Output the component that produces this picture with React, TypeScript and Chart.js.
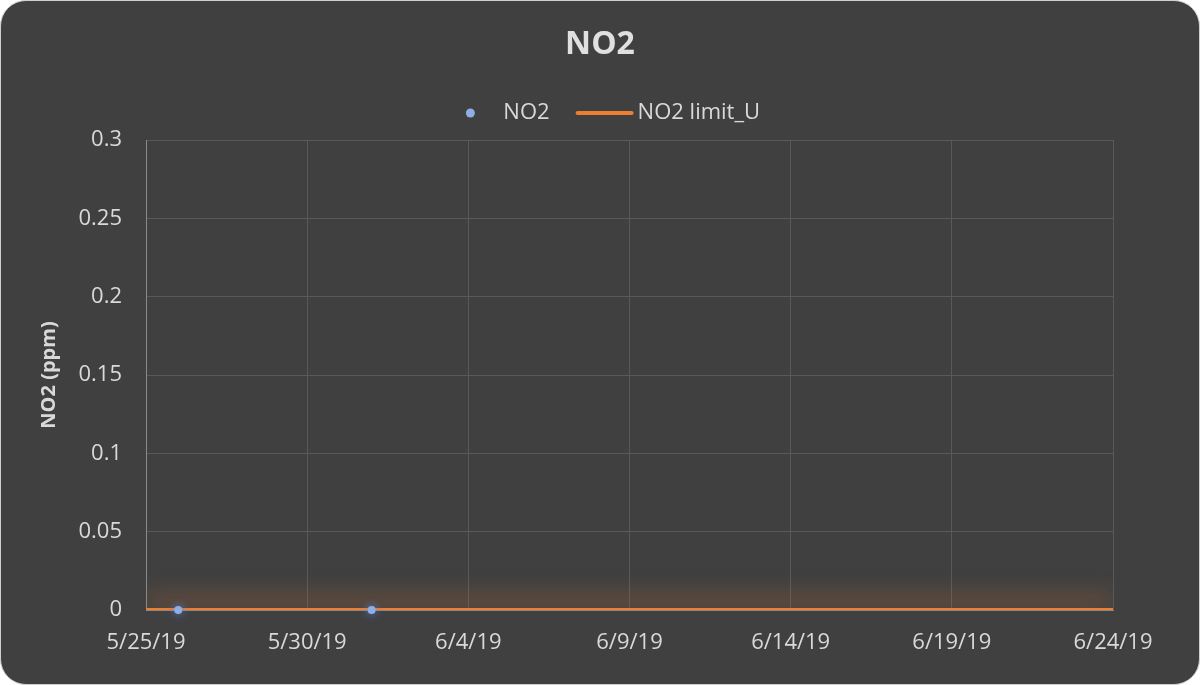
import React, { useEffect, useRef } from "react";
import { Chart, registerables } from "chart.js";

Chart.register(...registerables);

// ---- data ----
const no2Dates = ["5/26/19", "6/1/19"];
const no2Values = [0, 0];
const limitDates = ["5/25/19", "6/24/19"];
const limitValues = [0, 0];
const xTickLabels = ["5/25/19", "5/30/19", "6/4/19", "6/9/19", "6/14/19", "6/19/19", "6/24/19"];
const yTickValues = [0, 0.05, 0.1, 0.15, 0.2, 0.25, 0.3];

const DAY = 86400000;
function parseDate(s: string): number {
  const [m, d, y] = s.split("/").map(Number);
  return Date.UTC(2000 + y, m - 1, d);
}
const startMs = parseDate(xTickLabels[0]);
const toDay = (s: string) => Math.round((parseDate(s) - startMs) / DAY);
function formatDay(v: number): string {
  const dt = new Date(startMs + v * DAY);
  return `${dt.getUTCMonth() + 1}/${dt.getUTCDate()}/${String(dt.getUTCFullYear()).slice(2)}`;
}

const FONT = "'Open Sans', sans-serif";
const TEXT = "#d9d9d9";
const BLUE = "#8eaee6";
const ORANGE = "#ed7d31";

const glowPlugin = {
  id: "glow",
  beforeDatasetDraw(chart: any, args: any) {
    const ctx = chart.ctx;
    ctx.save();
    if (args.index === 1) {
      ctx.shadowColor = "rgba(237,125,49,0.85)";
      ctx.shadowBlur = 22;
      ctx.shadowOffsetY = -9;
    } else {
      ctx.shadowColor = "rgba(90,140,240,0.9)";
      ctx.shadowBlur = 8;
    }
  },
  afterDatasetDraw(chart: any) {
    chart.ctx.restore();
  },
};

const legendPlugin = {
  id: "customLegend",
  afterDraw(chart: any) {
    const ctx = chart.ctx;
    const ds = chart.data.datasets;
    ctx.save();
    ctx.font = `22px ${FONT}`;
    ctx.textBaseline = "middle";
    ctx.fillStyle = TEXT;
    const y = 112;
    const r = 4.5;
    const w1 = ctx.measureText(ds[0].label).width;
    const w2 = ctx.measureText(ds[1].label).width;
    const lineLen = 54;
    const total = 2 * r + 28.5 + w1 + 28 + lineLen + 6 + w2;
    let x = chart.width / 2 + 13 - total / 2;
    ctx.beginPath();
    ctx.fillStyle = BLUE;
    ctx.arc(x + r, y, r, 0, Math.PI * 2);
    ctx.fill();
    x += 2 * r + 28.5;
    ctx.fillStyle = TEXT;
    ctx.fillText(ds[0].label, x, y);
    x += w1 + 28;
    ctx.strokeStyle = ORANGE;
    ctx.lineWidth = 4;
    ctx.lineCap = "round";
    ctx.beginPath();
    ctx.moveTo(x, y);
    ctx.lineTo(x + lineLen, y);
    ctx.stroke();
    x += lineLen + 6;
    ctx.fillText(ds[1].label, x, y);
    ctx.restore();
  },
};

export default function App() {
  const ref = useRef<HTMLCanvasElement>(null);

  useEffect(() => {
    if (!ref.current) return;
    const chart = new Chart(ref.current, {
      type: "scatter",
      data: {
        datasets: [
          {
            label: "NO2",
            data: no2Dates.map((d, i) => ({ x: toDay(d), y: no2Values[i] })),
            backgroundColor: BLUE,
            borderColor: BLUE,
            borderWidth: 0,
            pointRadius: 4,
            showLine: false,
            clip: false as any,
          },
          {
            label: "NO2 limit_U",
            data: limitDates.map((d, i) => ({ x: toDay(d), y: limitValues[i] })),
            borderColor: ORANGE,
            backgroundColor: ORANGE,
            borderWidth: 4,
            pointRadius: 0,
            showLine: true,
          },
        ],
      },
      options: {
        animation: false,
        responsive: false,
        layout: { padding: { left: 0, right: 0, top: 0, bottom: 0 } },
        plugins: {
          legend: { display: false },
          tooltip: { enabled: false },
          title: {
            display: true,
            text: "NO2",
            color: "#e0e0e0",
            font: { family: FONT, size: 32, weight: "bold" },
            padding: { top: 25, bottom: 75.6 },
          },
        },
        scales: {
          x: {
            type: "linear",
            min: toDay(xTickLabels[0]),
            max: toDay(xTickLabels[xTickLabels.length - 1]),
            afterBuildTicks: (scale: any) => {
              scale.ticks = xTickLabels.map((l) => ({ value: toDay(l) }));
            },
            afterFit: (scale: any) => {
              scale.height = 74;
            },
            ticks: {
              color: TEXT,
              font: { family: FONT, size: 22 },
              padding: 20,
              maxRotation: 0,
              autoSkip: false,
              callback: (v: any) => formatDay(Number(v)),
            },
            grid: { color: "#595959", lineWidth: 1, drawTicks: false },
            border: { display: true, color: "#8a8a8a", width: 1 },
          },
          y: {
            min: yTickValues[0],
            max: yTickValues[yTickValues.length - 1],
            afterBuildTicks: (scale: any) => {
              scale.ticks = yTickValues.map((v) => ({ value: v }));
            },
            afterFit: (scale: any) => {
              scale.width = 145;
            },
            ticks: {
              color: TEXT,
              font: { family: FONT, size: 22 },
              padding: 24,
              callback: (v: any) => String(Number(Number(v).toFixed(2))),
            },
            grid: { color: "#595959", lineWidth: 1, drawTicks: false },
            border: { display: true, color: "#8a8a8a", width: 1 },
            title: {
              display: true,
              text: "NO2 (ppm)",
              color: TEXT,
              font: { family: FONT, size: 20, weight: "bold" },
              padding: { top: 36, bottom: 0 },
            },
          },
          yRight: {
            position: "right",
            min: yTickValues[0],
            max: yTickValues[yTickValues.length - 1],
            afterFit: (scale: any) => {
              scale.width = 86;
            },
            ticks: { display: false },
            grid: { display: false, drawTicks: false },
            border: { display: false },
          },
        },
      },
      plugins: [glowPlugin, legendPlugin],
    } as any);
    return () => chart.destroy();
  }, []);

  return (
    <div
      style={{
        position: "fixed",
        left: 0,
        top: 0,
        width: 1200,
        height: 685,
        boxSizing: "border-box",
        border: "1px solid #d0d0d0",
        borderRadius: 26,
        background: "#404040",
        overflow: "hidden",
      }}
    >
      <canvas ref={ref} width={1198} height={683} style={{ display: "block" }} />
    </div>
  );
}
